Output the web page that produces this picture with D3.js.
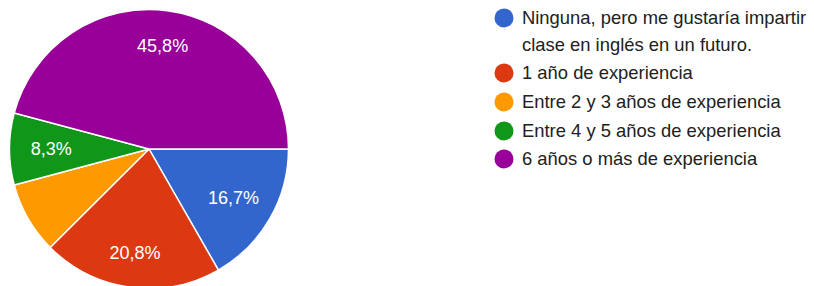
<!DOCTYPE html>
<html lang="es">
<head>
    <meta charset="UTF-8">
    <title>Años de experiencia</title>
    <script src="https://cdnjs.cloudflare.com/ajax/libs/d3/7.8.5/d3.min.js"></script>
    <style>
        body { margin: 0; padding: 0; background: #fff; }
        text { font-family: "Liberation Sans", Arial, sans-serif; }
        .slice-label { fill: #fff; font-size: 18px; }
        .legend text { fill: #212121; font-size: 18.4px; }
    </style>
</head>
<body>
    <div id="chart"></div>
    <script>
        const categories = [
            ["Ninguna, pero me gustaría impartir", "clase en inglés en un futuro."],
            ["1 año de experiencia"],
            ["Entre 2 y 3 años de experiencia"],
            ["Entre 4 y 5 años de experiencia"],
            ["6 años o más de experiencia"]
        ];
        const values = [16.7, 20.8, 8.3, 8.3, 45.8];
        const labels = ["16,7%", "20,8%", "", "8,3%", "45,8%"];
        const colors = ["#3366cc", "#dc3912", "#ff9900", "#109618", "#990099"];

        const width = 814, height = 286;
        const cx = 149, cy = 149, radius = 139.5;

        const svg = d3.select("#chart").append("svg")
            .attr("width", width)
            .attr("height", height);

        const pie = d3.pie()
            .sort(null)
            .startAngle(Math.PI / 2)
            .endAngle(Math.PI / 2 + 2 * Math.PI);

        const arc = d3.arc().innerRadius(0).outerRadius(radius);

        const g = svg.append("g").attr("transform", `translate(${cx},${cy})`);
        const arcs = pie(values);

        g.selectAll("path")
            .data(arcs)
            .enter().append("path")
            .attr("d", arc)
            .attr("fill", (d, i) => colors[i])
            .attr("stroke", "#fff")
            .attr("stroke-width", 1.5);

        // narrower slices get their label pulled in a bit
        function labelPos(d) {
            const span = d.endAngle - d.startAngle;
            const r = span > 1.2 ? radius * 0.75 : radius * 0.7;
            return d3.arc().innerRadius(r).outerRadius(r).centroid(d);
        }

        g.selectAll(".slice-label")
            .data(arcs)
            .enter().append("text")
            .attr("class", "slice-label")
            .attr("text-anchor", "middle")
            .attr("dy", "0.35em")
            .attr("transform", d => `translate(${labelPos(d)})`)
            .text((d, i) => labels[i]);

        // legend
        const legend = svg.append("g").attr("class", "legend");
        const rowY = [18, 73, 102, 131, 159];

        const item = legend.selectAll("g")
            .data(categories)
            .enter().append("g")
            .attr("transform", (d, i) => `translate(504,${rowY[i]})`);

        item.append("circle")
            .attr("r", 9.5)
            .attr("fill", (d, i) => colors[i]);

        item.append("text")
            .selectAll("tspan")
            .data(d => d)
            .enter().append("tspan")
            .attr("x", 18)
            .attr("y", (d, j) => j * 27)
            .attr("dy", "0.35em")
            .text(d => d);
    </script>
</body>
</html>
